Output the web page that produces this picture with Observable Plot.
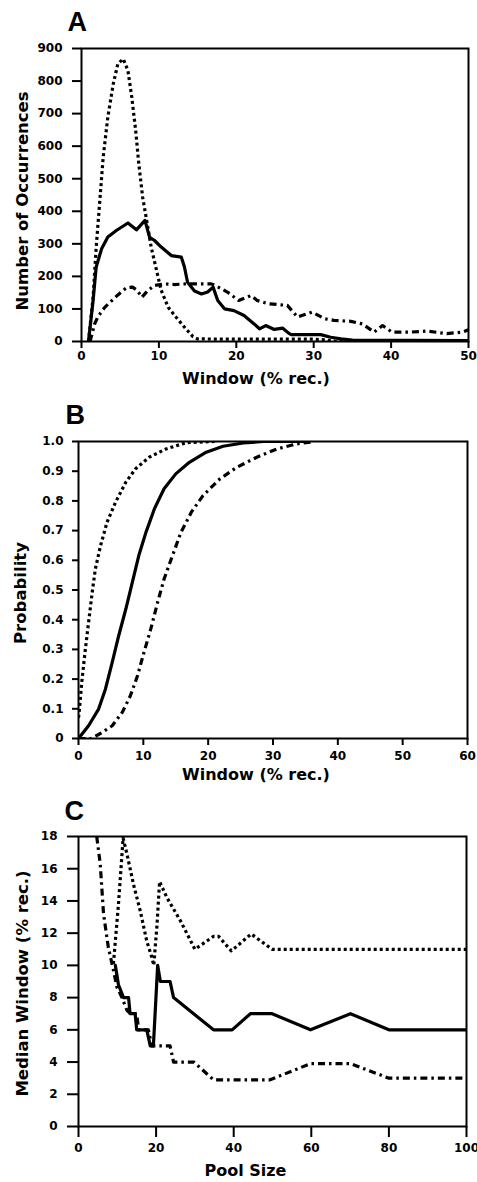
<!DOCTYPE html>
<html>
<head>
<meta charset="utf-8">
<script src="https://cdn.jsdelivr.net/npm/d3@7"></script>
<script src="https://cdn.jsdelivr.net/npm/@observablehq/plot@0.6"></script>
<style>
  html, body { margin: 0; padding: 0; background: white; }
  #chart svg { display: block; }
</style>
</head>
<body>
<div id="chart"></div>
<script>
// ---------- Panel A: Number of Occurrences vs Window ----------
const aXTicks = [0, 10, 20, 30, 40, 50];
const aYTicks = [0, 100, 200, 300, 400, 500, 600, 700, 800, 900];
const aDottedX = [0.9, 1.5, 1.9, 2.4, 2.8, 3.4, 4.1, 4.7, 5.4, 6.0, 6.5, 7.0, 7.4, 7.9, 8.5, 9.0, 9.7, 10.3, 11.2, 12.2, 13.3, 14.4, 15, 20, 25, 30, 31.5, 33, 40, 50];
const aDottedY = [0, 136, 290, 443, 566, 689, 791, 853, 868, 832, 750, 648, 546, 443, 361, 290, 218, 157, 105, 75, 44, 15, 8, 7, 7, 7, 5, 0, 0, 0];
const aSolidX = [0.9, 1.5, 1.9, 2.6, 3.4, 4.5, 6.0, 7.1, 8.2, 8.8, 9.4, 10.3, 11.6, 12.9, 13.3, 13.7, 14.6, 15.5, 16.3, 17.0, 17.6, 18.5, 19.7, 21.0, 22.3, 23.0, 23.8, 24.9, 26.0, 26.8, 27.1, 30.9, 32.2, 33.5, 35, 50];
const aSolidY = [0, 126, 229, 285, 321, 341, 364, 343, 372, 320, 311, 290, 264, 259, 229, 182, 155, 146, 152, 167, 126, 100, 95, 80, 54, 39, 49, 37, 41, 25, 21, 21, 13, 8, 4, 3];
const aDashDotX = [1.1, 1.7, 2.1, 3.0, 4.7, 5.8, 6.6, 7.2, 7.8, 8.6, 9.4, 10.7, 12, 13.5, 16.75, 17.3, 18.9, 20.3, 21.9, 22.7, 24.1, 26.6, 27.9, 29.8, 31.4, 32.6, 34.8, 36.3, 37.8, 38.9, 40.1, 42.5, 44.7, 47.2, 49.2, 50];
const aDashDotY = [0, 54, 75, 105, 143, 165, 167, 157, 136, 157, 172, 177, 175, 177, 177, 172, 151, 126, 141, 126, 116, 111, 75, 90, 70, 65, 62, 54, 29, 49, 29, 29, 32, 24, 29, 36];

// ---------- Panel B: Probability vs Window ----------
const bXTicks = [0, 10, 20, 30, 40, 50, 60];
const bYTicks = [0, 0.1, 0.2, 0.3, 0.4, 0.5, 0.6, 0.7, 0.8, 0.9, 1.0];
const bDottedX = [0, 0.1, 0.5, 1.0, 1.55, 2.1, 2.6, 3.4, 4.4, 5.7, 7.3, 8.8, 10.9, 13.5, 16.6, 21];
const bDottedY = [0.07, 0.088, 0.189, 0.29, 0.39, 0.49, 0.571, 0.649, 0.728, 0.795, 0.863, 0.908, 0.947, 0.975, 0.996, 1.0];
const bSolidX = [0, 1.55, 3.1, 4.15, 5.2, 6.2, 7.3, 8.3, 9.3, 10.4, 11.7, 13.2, 15.0, 17.1, 19.7, 22.3, 25.4, 28.5, 35];
const bSolidY = [0, 0.043, 0.099, 0.166, 0.256, 0.346, 0.436, 0.526, 0.616, 0.694, 0.773, 0.841, 0.891, 0.93, 0.964, 0.984, 0.995, 1.0, 1.0];
const bDashDotX = [0, 2, 3.6, 5.2, 6.75, 8.0, 9.1, 10.1, 11.15, 12.2, 13.2, 14.5, 15.8, 17.4, 19.2, 21.8, 24.4, 27.5, 30.6, 33.7, 35.8];
const bDashDotY = [0, 0, 0.02, 0.043, 0.088, 0.144, 0.211, 0.29, 0.369, 0.458, 0.537, 0.616, 0.694, 0.762, 0.818, 0.874, 0.913, 0.947, 0.975, 0.992, 0.998];

// ---------- Panel C: Median Window vs Pool Size ----------
const cXTicks = [0, 20, 40, 60, 80, 100];
const cYTicks = [0, 2, 4, 6, 8, 10, 12, 14, 16, 18];
const cSolidX = [9.5, 10.3, 11.6, 12.9, 13.3, 14.6, 15.0, 17.6, 18.5, 19.3, 20.4, 21.1, 23.6, 24.5, 34.8, 39.6, 44.3, 49.9, 59.8, 70.1, 80, 100];
const cSolidY = [10, 8.8, 8, 8, 7, 7, 6, 6, 5, 5, 10, 9, 9, 8, 6, 6, 7, 7, 6, 7, 6, 6];
const cDottedX = [9.0, 10.3, 11.5, 12.5, 14.2, 15.9, 17.6, 18.9, 19.4, 20.2, 20.9, 22.8, 26.2, 30, 34.8, 36.1, 39.4, 44.5, 49.9, 100];
const cDottedY = [10.1, 13.8, 17.9, 16.9, 15.0, 13.4, 11.5, 10.5, 10.0, 12.4, 15.2, 14.2, 12.8, 11.0, 11.8, 11.8, 10.9, 11.95, 11.0, 11.0];
const cDashDotX = [4.7, 5.6, 6.45, 7.7, 9.0, 9.9, 11.2, 12.5, 13.5, 15.0, 15.5, 18.0, 18.9, 23.6, 24.5, 29.7, 34.8, 49.4, 59.8, 70.1, 80, 100];
const cDashDotY = [18, 16.3, 13.2, 11.1, 9.7, 8.65, 8.0, 7.2, 7.0, 7.0, 6.0, 6.0, 5.0, 5.0, 4.0, 4.0, 2.9, 2.9, 3.9, 3.9, 3.0, 3.0];

const pts = (xs, ys) => xs.map((x, i) => ({x, y: ys[i]}));

const FONT = "DejaVu Sans, Verdana, sans-serif";
const DOT = "3,3";
const DASHDOT = "7,4,2.5,4";

function lineMarks(dotted, solid, dashdot) {
  const common = {x: "x", y: "y", stroke: "black", strokeWidth: 3.2, strokeLinejoin: "round", clip: true};
  return [
    Plot.line(dotted, {...common, strokeDasharray: DOT, strokeLinecap: "butt"}),
    Plot.line(dashdot, {...common, strokeDasharray: DASHDOT, strokeLinecap: "butt"}),
    Plot.line(solid, {...common})
  ];
}

function panel(o) {
  return Plot.plot({
    width: 477,
    height: o.height,
    marginTop: o.mt, marginBottom: o.mb, marginLeft: o.ml, marginRight: o.mr,
    style: {fontFamily: FONT, fontWeight: "bold", fontSize: "12px", color: "black", background: "white", overflow: "visible"},
    x: {domain: o.xDomain},
    y: {domain: o.yDomain},
    marks: [
      Plot.axisX({ticks: o.xTicks, tickSize: o.xts, tickPadding: o.xtp, strokeWidth: 2, label: null, tickFormat: d => String(d)}),
      Plot.axisY({ticks: o.yTicks, tickSize: o.yts, tickPadding: o.ytp, strokeWidth: 2, label: null, tickFormat: o.yFormat || (d => String(d))}),
      Plot.frame({stroke: "black", strokeWidth: 2}),
      ...o.lines,
      Plot.text([o.xTitle], {frameAnchor: "bottom", dx: o.xtdx, dy: o.xtdy, textAnchor: "middle", lineAnchor: "middle", fontSize: 16, fontWeight: "bold", fontFamily: FONT}),
      Plot.text([o.yTitle], {frameAnchor: "left", dx: o.ytdx, dy: o.ytdy, rotate: -90, textAnchor: "middle", lineAnchor: "middle", fontSize: 16.5, fontWeight: "bold", fontFamily: FONT}),
      Plot.text([o.letter], {frameAnchor: "top-left", dx: o.ldx, dy: o.ldy, textAnchor: "start", lineAnchor: "middle", fontSize: 27, fontWeight: "bold", fontFamily: "Liberation Sans, Arial, sans-serif"})
    ]
  });
}

const chart = document.getElementById("chart");

chart.appendChild(panel({
  height: 390, mt: 48, mb: 49, ml: 81, mr: 9,
  xDomain: [0, 50], yDomain: [0, 900], xTicks: aXTicks, yTicks: aYTicks,
  xts: 7, xtp: 3, yts: 9, ytp: 10,
  lines: lineMarks(pts(aDottedX, aDottedY), pts(aSolidX, aSolidY), pts(aDashDotX, aDashDotY)),
  xTitle: "Window (% rec.)", xtdx: -19, xtdy: 37,
  yTitle: "Number of Occurrences", ytdx: -59, ytdy: 6,
  letter: "A", ldx: -14, ldy: -26
}));

chart.appendChild(panel({
  height: 395, mt: 51, mb: 47, ml: 78, mr: 10,
  xDomain: [0, 60], yDomain: [0, 1], xTicks: bXTicks, yTicks: bYTicks,
  xts: 7, xtp: 6, yts: 6, ytp: 9,
  yFormat: d => d === 0 ? "0" : d.toFixed(1),
  lines: lineMarks(pts(bDottedX, bDottedY), pts(bSolidX, bSolidY), pts(bDashDotX, bDashDotY)),
  xTitle: "Window (% rec.)", xtdx: -17, xtdy: 36,
  yTitle: "Probability", ytdx: -58, ytdy: 3,
  letter: "B", ldx: -13, ldy: -26
}));

chart.appendChild(panel({
  height: 397, mt: 51, mb: 56, ml: 78, mr: 11,
  xDomain: [0, 100], yDomain: [0, 18], xTicks: cXTicks, yTicks: cYTicks,
  xts: 11, xtp: 6, yts: 11, ytp: 10,
  lines: lineMarks(pts(cDottedX, cDottedY), pts(cSolidX, cSolidY), pts(cDashDotX, cDashDotY)),
  xTitle: "Pool Size", xtdx: -27, xtdy: 44,
  yTitle: "Median Window (% rec.)", ytdx: -56, ytdy: 2,
  letter: "C", ldx: -14, ldy: -25
}));
</script>
</body>
</html>
